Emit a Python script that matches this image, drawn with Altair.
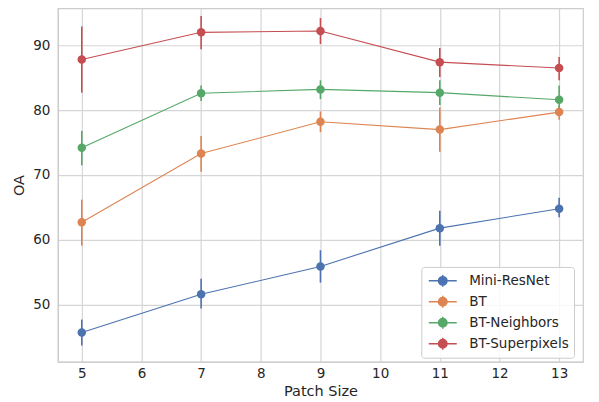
import altair as alt
import pandas as pd

patch_sizes = [5, 7, 9, 11, 13]
methods = ["Mini-ResNet", "BT", "BT-Neighbors", "BT-Superpixels"]
colors = ["#4C72B0", "#DD8452", "#55A868", "#C44E52"]

mini_mean = [45.7, 51.6, 55.9, 61.8, 64.8]
mini_lo = [43.7, 49.4, 53.4, 59.1, 63.5]
mini_hi = [47.7, 54.0, 58.4, 64.5, 66.5]

bt_mean = [62.7, 73.3, 78.2, 77.0, 79.7]
bt_lo = [59.1, 70.5, 76.6, 73.6, 78.5]
bt_hi = [66.2, 76.0, 79.8, 80.4, 80.6]

nb_mean = [74.2, 82.6, 83.2, 82.7, 81.6]
nb_lo = [71.5, 81.4, 81.7, 80.8, 80.2]
nb_hi = [76.8, 83.8, 84.6, 84.6, 83.8]

sp_mean = [87.8, 92.0, 92.2, 87.4, 86.5]
sp_lo = [82.7, 89.4, 90.2, 85.1, 84.6]
sp_hi = [92.9, 94.5, 94.2, 89.6, 88.2]

series = {
    "Mini-ResNet": (mini_mean, mini_lo, mini_hi),
    "BT": (bt_mean, bt_lo, bt_hi),
    "BT-Neighbors": (nb_mean, nb_lo, nb_hi),
    "BT-Superpixels": (sp_mean, sp_lo, sp_hi),
}

rows = []
for m in methods:
    mean, lo, hi = series[m]
    for i, ps in enumerate(patch_sizes):
        rows.append({"method": m, "patch": ps, "oa": mean[i], "lo": lo[i], "hi": hi[i]})
df = pd.DataFrame(rows)

FONT = "DejaVu Sans"
TEXT = "#262626"

# custom legend glyph: horizontal line, vertical error bar, filled circle
legend_symbol = (
    "M-1.75,0H1.75M0,-0.75V0.75"
    "M0.53,0A0.53,0.53,0,1,1,-0.53,0A0.53,0.53,0,1,1,0.53,0Z"
)

color = alt.Color(
    "method:N",
    scale=alt.Scale(domain=methods, range=colors),
    sort=methods,
    legend=alt.Legend(
        title=None,
        orient="none",
        legendX=364,
        legendY=259,
        symbolType=legend_symbol,
        symbolSize=256,
        symbolOffset=7.5,
        symbolStrokeWidth=1.5,
        labelFontSize=13.5,
        labelFont=FONT,
        labelColor=TEXT,
        labelOffset=17.5,
        padding=5,
        rowPadding=3,
        strokeColor="#cccccc",
        fillColor="rgba(255,255,255,0.85)",
        cornerRadius=3,
    ),
)

x = alt.X(
    "patch:Q",
    scale=alt.Scale(domain=[4.6, 13.4], nice=False, zero=False),
    axis=alt.Axis(values=[5, 6, 7, 8, 9, 10, 11, 12, 13], title="Patch Size", format="d",
                  labelPadding=5),
)
y = alt.Y(
    "oa:Q",
    scale=alt.Scale(domain=[41.2, 95.7], nice=False, zero=False),
    axis=alt.Axis(values=[50, 60, 70, 80, 90], title="OA"),
)

base = alt.Chart(df)

err = base.mark_rule(strokeWidth=1.6).encode(
    x=x, y=alt.Y("lo:Q"), y2="hi:Q", color=color
)
line = base.mark_line(strokeWidth=1.1).encode(x=x, y=y, color=color, detail="method:N")
pts = base.mark_point(filled=True, size=72, opacity=1).encode(x=x, y=y, color=color)

chart = (
    alt.layer(err, line, pts)
    .properties(
        width=526,
        height=354,
        autosize=alt.AutoSizeParams(type="none"),
        padding={"left": 50, "top": 0, "right": 8, "bottom": 38},
    )
    .configure_view(stroke="#cccccc", strokeWidth=1.2)
    .configure_axis(
        labelFont=FONT,
        titleFont=FONT,
        labelFontSize=13.5,
        titleFontSize=14.5,
        titleFontWeight="normal",
        labelColor=TEXT,
        titleColor=TEXT,
        gridColor="#d5d5d5",
        gridWidth=1.2,
        domainColor="#cccccc",
        domainWidth=1.2,
        ticks=False,
        labelPadding=8,
    )
    .configure_axisX(titlePadding=4)
    .configure_axisY(titlePadding=6)
)

chart.save("out.html", embed_options={"renderer": "svg", "actions": False})
